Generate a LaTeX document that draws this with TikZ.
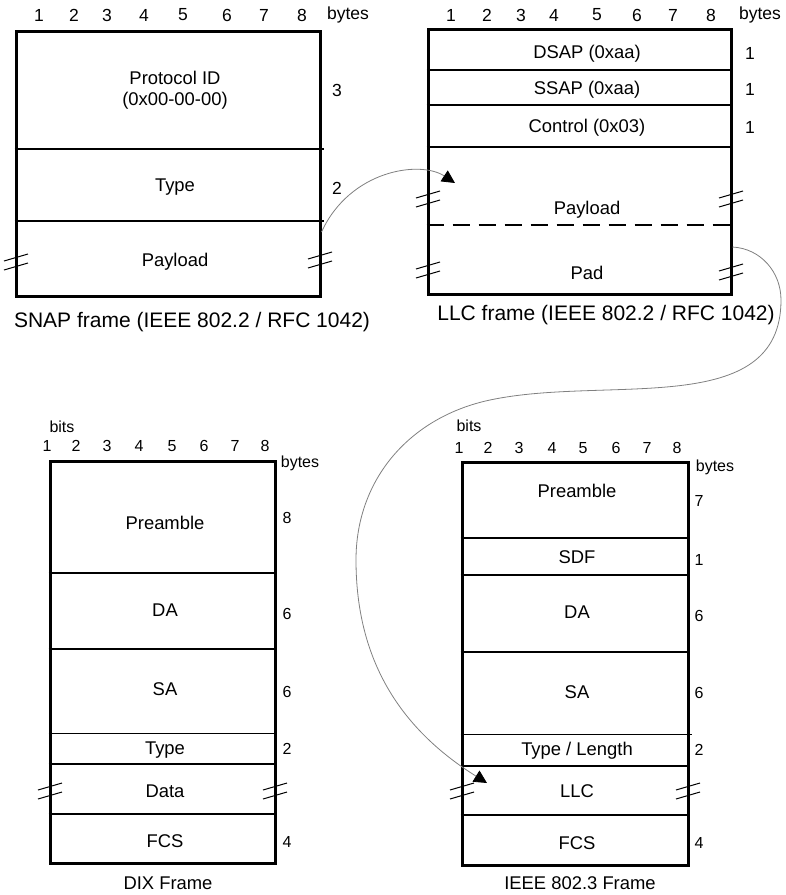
\documentclass[tikz,border=0pt]{standalone}
\usepackage{fontspec}
\setmainfont{Liberation Sans}
\usetikzlibrary{positioning,arrows.meta,calc}

\begin{document}
\begin{tikzpicture}[
  x=1pt, y=-1pt,
  frame/.style={draw=black, line width=3pt, inner sep=0pt},
  div/.style={line width=2.2pt},
  thindiv/.style={line width=1pt},
  padline/.style={line width=2pt, dash pattern=on 17pt off 9pt},
  field/.style={font=\fontsize{18.4}{21}\selectfont, align=center, inner sep=0pt},
  bytenum/.style={font=\fontsize{17.5}{20}\selectfont, inner sep=0pt},
  colnum/.style={font=\fontsize{17.5}{20}\selectfont, inner sep=0pt},
  small/.style={font=\fontsize{16}{18}\selectfont, inner sep=0pt},
  caption/.style={font=\fontsize{21}{24}\selectfont, inner sep=0pt},
  brk/.style={line width=1pt},
  link/.style={draw=gray, line width=0.8pt, -{Triangle[length=13pt, width=13pt, color=black]}}
]
\useasboundingbox (0,0) rectangle (786,895);

%% ---------- SNAP frame ----------
\node[frame, minimum width=304pt, minimum height=265pt] (snap) at (168,163.5) {};
\draw[div] (snap.west |- 0,149) -- ([xshift=2pt]snap.east |- 0,149);
\draw[div] (snap.west |- 0,221) -- ([xshift=2pt]snap.east |- 0,221);

\foreach \n/\x in {1/39,2/74,3/107,4/144,5/183,6/227,7/264,8/302}
  \node[colnum] (snapcol\n) at (\x,15) {\n};
\node[colnum] (snapbytes) at (348,15) {bytes};

\node[field] (protoid)  at (175,90)  {Protocol ID\\(0x00-00-00)};
\node[field] (snaptype) at (175,187) {Type};
\node[field] (snappay)  at (175,262) {Payload};
\node[bytenum] (snapb1) at (337,90)  {3};
\node[bytenum] (snapb2) at (337,188) {2};
\node[caption] (snapcap) at (192,322) {SNAP frame (IEEE 802.2 / RFC 1042)};

%% ---------- LLC frame ----------
\node[frame, minimum width=303pt, minimum height=265pt] (llc) at (579.5,161.5) {};
\draw[div] (llc.west |- 0,70)  -- (llc.east |- 0,70);
\draw[div] (llc.west |- 0,105) -- (llc.east |- 0,105);
\draw[div] (llc.west |- 0,147) -- (llc.east |- 0,147);
\draw[padline] (llc.west |- 0,225) -- (llc.east |- 0,225);

\foreach \n/\x in {1/451,2/487,3/521,4/554,5/597,6/637,7/673,8/711}
  \node[colnum] (llccol\n) at (\x,15) {\n};
\node[colnum] (llcbytes) at (760,15) {bytes};

\node[field] (dsap)    at (587,54)  {DSAP (0xaa)};
\node[field] (ssap)    at (587,90)  {SSAP (0xaa)};
\node[field] (control) at (587,128) {Control (0x03)};
\node[field] (llcpay)  at (587,210) {Payload};
\node[field] (pad)     at (587,273) {Pad};
\foreach \n/\y in {1/53,2/89,3/127}
  \node[bytenum] (llcb\n) at (750,\y) {1};
\node[caption] (llccap) at (606,315) {LLC frame (IEEE 802.2 / RFC 1042)};

%% ---------- DIX frame ----------
\node[frame, minimum width=225pt, minimum height=402pt] (dix) at (162.5,662) {};
\foreach \y in {573,649,764,814}
  \draw[div] (dix.west |- 0,\y) -- (dix.east |- 0,\y);
\draw[thindiv] (dix.west |- 0,733) -- (dix.east |- 0,733);

\node[small] (dixbits) at (62,427) {bits};
\foreach \n/\x in {1/47,2/76,3/107,4/139,5/172,6/204,7/235,8/265}
  \node[small] (dixcol\n) at (\x,446) {\n};
\node[small] (dixbytes) at (300,463) {bytes};

\node[field] (dixpre)  at (165,523) {Preamble};
\node[field] (dixda)   at (165,610) {DA};
\node[field] (dixsa)   at (165,689) {SA};
\node[field] (dixtype) at (165,750) {Type};
\node[field] (dixdata) at (165,791) {Data};
\node[field] (dixfcs)  at (165,841) {FCS};
\foreach \n/\v/\y in {1/8/518,2/6/614,3/6/692,4/2/749,5/4/842}
  \node[small] (dixb\n) at (287,\y) {\v};
\node[field] (dixcap) at (168,883) {DIX Frame};

%% ---------- IEEE 802.3 frame ----------
\node[frame, minimum width=226pt, minimum height=403pt] (ieee) at (575,663.5) {};
\foreach \y in {538,575,652,766,815}
  \draw[div] (ieee.west |- 0,\y) -- (ieee.east |- 0,\y);
\draw[thindiv] (ieee.west |- 0,734) -- ([xshift=2pt]ieee.east |- 0,734);

\node[small] (ieeebits) at (469,426) {bits};
\foreach \n/\x in {1/459,2/488,3/519,4/552,5/583,6/616,7/647,8/677}
  \node[small] (ieeecol\n) at (\x,448) {\n};
\node[small] (ieeebytes) at (715,467) {bytes};

\node[field] (ieeepre)  at (577,491) {Preamble};
\node[field] (sdf)      at (577,557) {SDF};
\node[field] (ieeeda)   at (577,612) {DA};
\node[field] (ieeesa)   at (577,692) {SA};
\node[field] (typelen)  at (577,751) {Type / Length};
\node[field] (ieeellc)  at (577,791) {LLC};
\node[field] (ieeefcs)  at (577,843) {FCS};
\foreach \n/\v/\y in {1/7/501,2/1/560,3/6/616,4/6/693,5/2/750,6/4/843}
  \node[small] (ieeeb\n) at (699,\y) {\v};
\node[field] (ieeecap) at (580,883) {IEEE 802.3 Frame};

%% ---------- break marks ----------
\foreach \x/\y in {16/262,320/260,428/199,428/270,731/199,731/272,50/791,275/791,462/791,688/791}
{
  \draw[brk] (\x,\y) ++(-12,-1) -- ++(24,-7);
  \draw[brk] (\x,\y) ++(-12,8) -- ++(24,-7);
}

%% ---------- connectors ----------
\coordinate (snapout) at (snap.east |- 0,232);
\coordinate (llcin)   at (455,183);
\coordinate (llcout)  at (llc.east |- 0,247);
\coordinate (ieeein)  at (487,783);

\draw[link] (snapout) .. controls (350,170) and (420,160) .. (llcin);
\draw[link] (llcout) to[out=-3, in=90] (781,300)
                     to[out=-90, in=12] (490,400)
                     to[out=192, in=90] (356,560)
                     to[out=-90, in=148] (ieeein);

\end{tikzpicture}
\end{document}
